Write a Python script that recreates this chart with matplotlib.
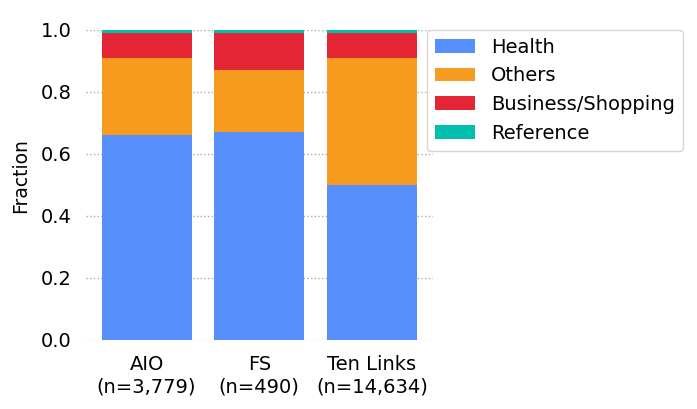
import matplotlib.pyplot as plt
import numpy as np

# data
groups = ["AIO\n(n=3,779)", "FS\n(n=490)", "Ten Links\n(n=14,634)"]
categories = ["Health", "Others", "Business/Shopping", "Reference"]
health = [0.66, 0.67, 0.50]
others = [0.25, 0.20, 0.41]
business = [0.08, 0.12, 0.08]
reference = [0.01, 0.01, 0.01]

colors = ["#5790fc", "#f89c20", "#e42536", "#00bfae"]

fig = plt.figure(figsize=(6.97, 4.09), dpi=100)
ax = fig.add_axes([0.123, 0.169, 0.498, 0.758])

x = np.arange(len(groups))
bottom = np.zeros(len(groups))
for vals, lab, col in zip([health, others, business, reference], categories, colors):
    ax.bar(x, vals, 0.8, bottom=bottom, label=lab, color=col, zorder=3)
    bottom += np.array(vals)

ax.set_ylim(0, 1.0)
ax.set_yticks([0.0, 0.2, 0.4, 0.6, 0.8, 1.0])
ax.set_xticks(x)
ax.set_xticklabels(groups, fontsize=14)
ax.tick_params(axis="y", length=0, labelsize=14, pad=10)
ax.tick_params(axis="x", length=0, labelsize=14, pad=11)
ax.set_ylabel("Fraction", fontsize=13.5)
ax.yaxis.set_label_coords(-0.16, 0.53)
ax.grid(axis="y", linestyle=":", linewidth=1, color="#aaaaaa", zorder=0)
for s in ax.spines.values():
    s.set_visible(False)

ax.legend(loc="upper left", bbox_to_anchor=(0.983, 1.0), fontsize=14,
          handlelength=2.05, handleheight=0.7, handletextpad=0.85,
          labelspacing=0.5, borderaxespad=0)

plt.savefig("out.png", dpi=100)
